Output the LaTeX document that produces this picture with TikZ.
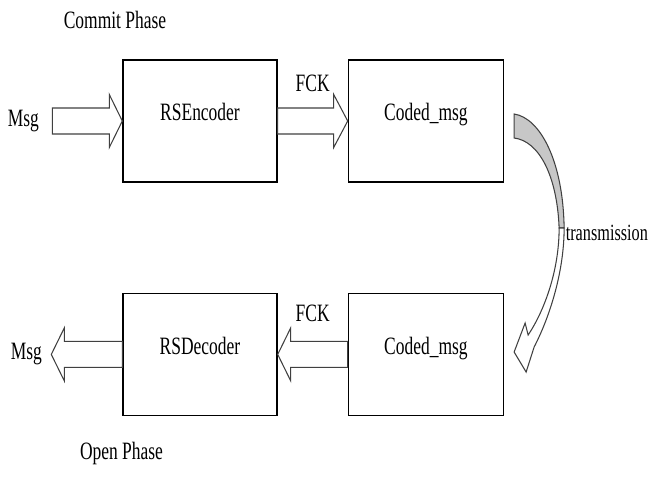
\documentclass[tikz,border=0pt]{standalone}
\usepackage{fontspec}
\setmainfont{Liberation Serif}[FakeStretch=0.7]
\usetikzlibrary{positioning,calc}

\begin{document}
\begin{tikzpicture}[
  font=\fontsize{14.2}{17}\selectfont,
  node distance=1.4cm,
  block/.style={rectangle, draw, line width=0.8pt, minimum width=3.08cm, minimum height=2.44cm, text height=0.4cm, text depth=0.4cm},
  lbl/.style={inner sep=0.167cm},
  edge/.style={draw=black!75, line width=0.6pt},
  fat/.style={edge, fill=white, to path={
    ($(\tikztotarget)!#1!(\tikztostart)$) coordinate (hb)
    ($(\tikztostart)!0.26cm!90:(\tikztotarget)$)
    -- ($(hb)!0.26cm!-90:(\tikztostart)$)
    -- ($(hb)!0.53cm!-90:(\tikztostart)$)
    -- (\tikztotarget)
    -- ($(hb)!0.53cm!90:(\tikztostart)$)
    -- ($(hb)!0.26cm!90:(\tikztostart)$)
    -- ($(\tikztostart)!0.26cm!-90:(\tikztotarget)$)
    -- cycle}},
  fat/.default=0.26cm
]
\useasboundingbox (0,0) rectangle (13,-9.54);

\node[block] (encoder) at (4.0,-2.42) {RSEncoder};
\node[block, right=of encoder, minimum width=3.1cm] (coded) {Coded\_msg};
\node[block, below=2.2cm of encoder] (decoder) {RSDecoder};
\node[block, below=2.2cm of coded, minimum width=3.1cm] (received) {Coded\_msg};

\node[lbl, left=of encoder, inner xsep=0.26cm] (msgin) {Msg};
\node[lbl, left=1.42cm of decoder, inner xsep=0.18cm] (msgout) {Msg};
\node[lbl] (commit) at (2.3,-0.4) {Commit Phase};
\node[lbl] (open) at (2.43,-9.06) {Open Phase};

\coordinate (mid) at ($(coded.east)!0.5!(received.east)$);
\node[lbl, right=1.06cm of mid, yshift=0.1cm, font=\fontsize{13.2}{16}\selectfont] (trans) {transmission};

\draw[fat] (msgin.east) to (encoder.west);
\draw[fat=0.28cm] (encoder.east) to (coded.west);
\draw[fat] (received.west) to (decoder.east);
\draw[fat] (decoder.west) to (msgout.east);

\path (encoder.east) -- (coded.west) node[lbl, midway, above=0.42cm] (fck1) {FCK};
\path (received.west) -- (decoder.east) node[lbl, midway, above=0.48cm] (fck2) {FCK};

% curved transmission arrow
\begin{scope}[shift={(coded.east)}, x=0.02cm, y=-0.02cm]
  \filldraw[edge, fill=black!22] (10,-7) .. controls (36,-3) and (59,40) .. (60,107)
    -- (55,107) .. controls (53,55) and (35,20) .. (10,17) -- cycle;
  \filldraw[edge, fill=white] (60,107) .. controls (60,150) and (46,195) .. (30,226)
    -- (22,251) -- (10,231) -- (21,202) -- (24,214)
    .. controls (40,190) and (55,150) .. (55,107) -- cycle;
\end{scope}

\end{tikzpicture}
\end{document}
